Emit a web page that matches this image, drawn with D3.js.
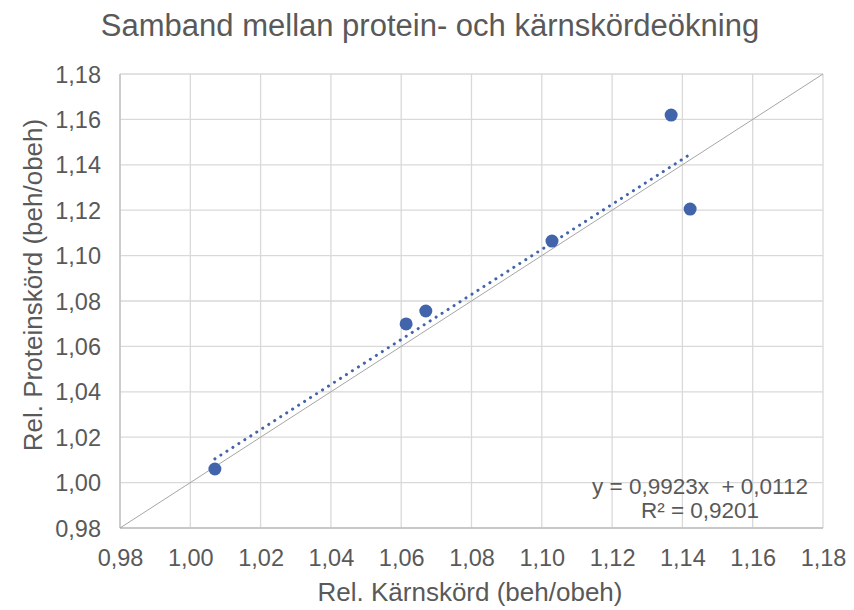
<!DOCTYPE html>
<html><head><meta charset="utf-8">
<script src="https://cdn.jsdelivr.net/npm/d3@7"></script>
<style>body{margin:0;background:#fff}text{font-family:"Liberation Sans",Arial,sans-serif}</style>
</head><body>
<svg id="c" width="854" height="610"></svg>
<script>
const xValues = [1.007, 1.0614, 1.067, 1.1029, 1.1368, 1.1422];
const yValues = [1.006, 1.0699, 1.0756, 1.1064, 1.1619, 1.1205];
const tickValues = [0.98, 1.00, 1.02, 1.04, 1.06, 1.08, 1.10, 1.12, 1.14, 1.16, 1.18];
const trendSlope = 0.9923, trendIntercept = 0.0112;
const eqLines = ["y = 0,9923x  + 0,0112", "R² = 0,9201"];
const titleText = "Samband mellan protein- och kärnskördeökning";
const xLabel = "Rel. Kärnskörd (beh/obeh)";
const yLabel = "Rel. Proteinskörd (beh/obeh)";

const svg = d3.select("#c");
const L = 120, R = 823, T = 74, B = 528;
const x = d3.scaleLinear().domain([0.98, 1.18]).range([L, R]);
const y = d3.scaleLinear().domain([0.98, 1.18]).range([B, T]);
const fmt = d => d3.format(".2f")(d).replace(".", ",");
const grey = "#595959", gridC = "#d9d9d9", blue = "#4264aa";
const FF = "Liberation Sans, Arial, sans-serif";

// grid
svg.append("g").selectAll("line").data(tickValues).join("line")
  .attr("x1", d => x(d)).attr("x2", d => x(d)).attr("y1", T).attr("y2", B)
  .attr("stroke", gridC).attr("stroke-width", 1.3);
svg.append("g").selectAll("line").data(tickValues).join("line")
  .attr("y1", d => y(d)).attr("y2", d => y(d)).attr("x1", L).attr("x2", R)
  .attr("stroke", gridC).attr("stroke-width", 1.3);
// axes lines
svg.append("line").attr("x1", L).attr("x2", L).attr("y1", T).attr("y2", B).attr("stroke", "#bfbfbf").attr("stroke-width", 1.3);
svg.append("line").attr("x1", L).attr("x2", R).attr("y1", B).attr("y2", B).attr("stroke", "#bfbfbf").attr("stroke-width", 1.3);

// tick labels
const xAxis = d3.axisBottom(x).tickValues(tickValues).tickFormat(fmt).tickSize(0).tickPadding(20);
const gx = svg.append("g").attr("transform", `translate(0,${B})`).call(xAxis);
gx.select(".domain").remove();
gx.selectAll("text").attr("dy", null).attr("y", 38).attr("fill", grey).attr("font-size", 23.5).attr("font-family", FF);
const yAxis = d3.axisLeft(y).tickValues(tickValues).tickFormat(fmt).tickSize(0).tickPadding(19);
const gy = svg.append("g").attr("transform", `translate(${L},0)`).call(yAxis);
gy.select(".domain").remove();
gy.selectAll("text").attr("dy", null).attr("y", 8).attr("fill", grey).attr("font-size", 23.5).attr("font-family", FF);

// diagonal y=x
svg.append("line").attr("x1", x(0.98)).attr("y1", y(0.98)).attr("x2", x(1.18)).attr("y2", y(1.18))
  .attr("stroke", "#a6a6a6").attr("stroke-width", 1);

// trendline
const x0 = d3.min(xValues), x1 = d3.max(xValues);
svg.append("line").attr("x1", x(x0)).attr("y1", y(trendSlope * x0 + trendIntercept))
  .attr("x2", x(x1)).attr("y2", y(trendSlope * x1 + trendIntercept))
  .attr("stroke", blue).attr("stroke-width", 3).attr("stroke-linecap", "round")
  .attr("stroke-dasharray", "0.1,7");

// points
svg.append("g").selectAll("circle").data(xValues.map((v, i) => [v, yValues[i]])).join("circle")
  .attr("cx", d => x(d[0])).attr("cy", d => y(d[1])).attr("r", 6.5).attr("fill", blue);

// equation
svg.append("g").selectAll("text").data(eqLines).join("text")
  .attr("x", 700).attr("y", (d, i) => 494 + i * 24).attr("text-anchor", "middle")
  .style("white-space", "pre").attr("xml:space", "preserve")
  .attr("fill", grey).attr("font-size", 22.5).text(d => d);

// title
svg.append("text").attr("x", 430).attr("y", 36).attr("text-anchor", "middle")
  .attr("fill", grey).attr("font-size", 31).text(titleText);
// axis titles
svg.append("text").attr("x", 470).attr("y", 601).attr("text-anchor", "middle")
  .attr("fill", grey).attr("font-size", 26).text(xLabel);
svg.append("text").attr("transform", "translate(42,285) rotate(-90)").attr("text-anchor", "middle")
  .attr("fill", grey).attr("font-size", 26).text(yLabel);
</script>
</body></html>
